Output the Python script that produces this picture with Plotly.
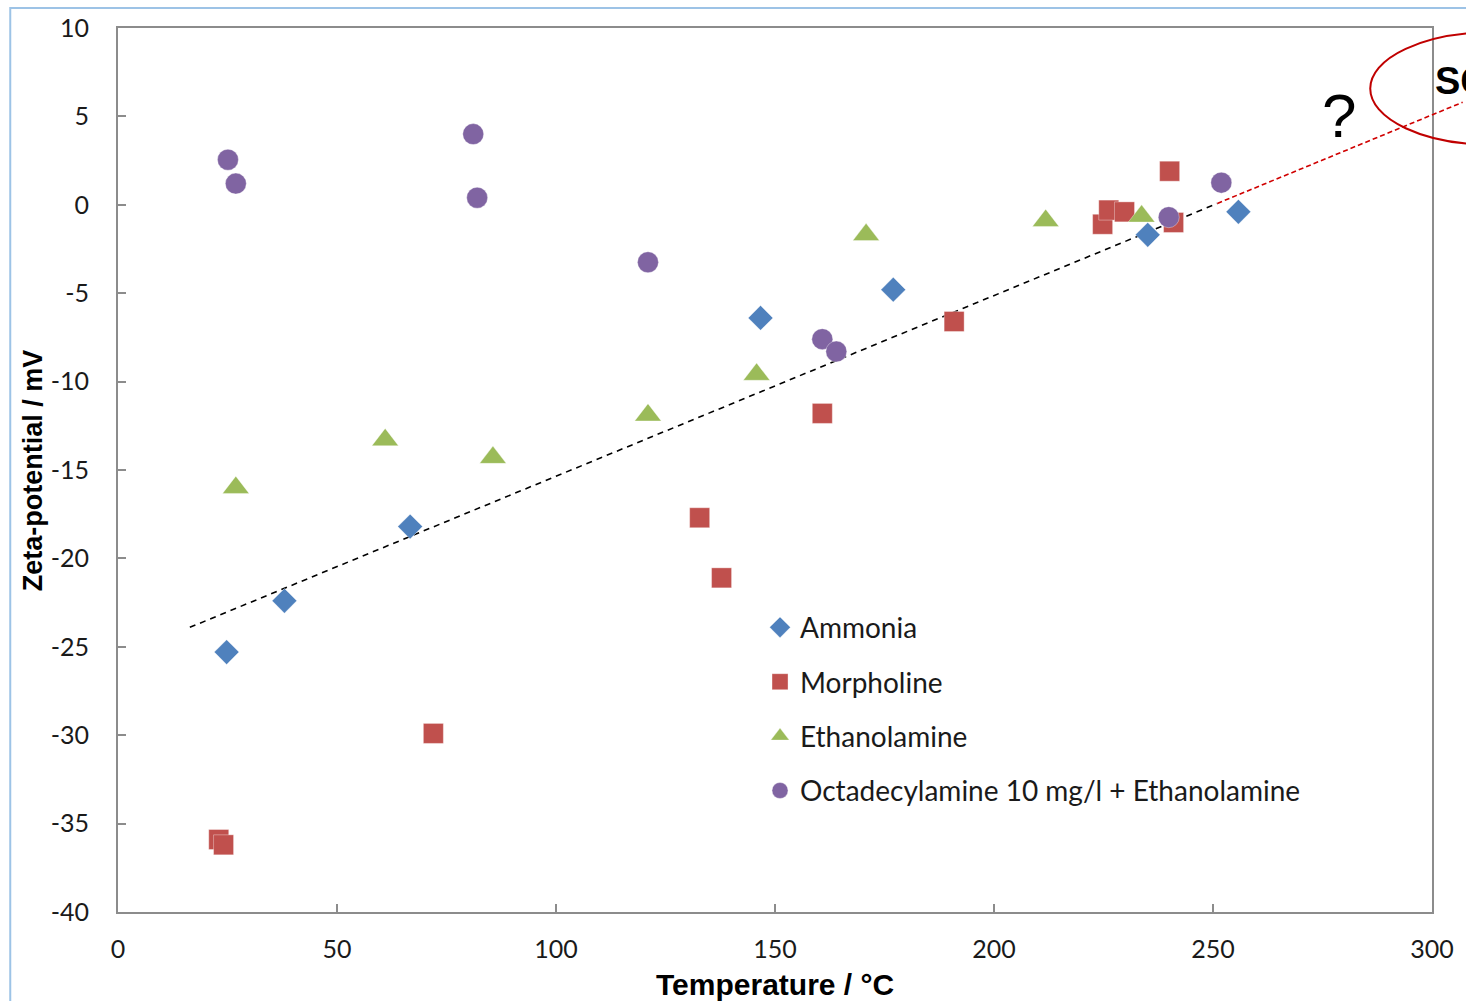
import plotly.graph_objects as go

# ---------------- data ----------------
ammonia_x = [24.8, 38.0, 66.7, 146.7, 177.0, 235.1, 255.8]
ammonia_y = [-25.3, -22.4, -18.2, -6.4, -4.8, -1.7, -0.4]

morpholine_x = [23.0, 24.1, 72.0, 132.8, 137.8, 160.8, 190.9, 224.8, 226.2, 229.8, 240.1, 241.0]
morpholine_y = [-35.9, -36.2, -29.9, -17.7, -21.1, -11.8, -6.6, -1.1, -0.3, -0.4, 1.9, -1.0]

ethanolamine_x = [26.9, 61.0, 85.6, 121.0, 145.8, 170.8, 211.8, 233.7]
ethanolamine_y = [-16.0, -13.3, -14.3, -11.9, -9.6, -1.7, -0.9, -0.65]

oda_x = [25.1, 26.9, 81.1, 82.0, 121.0, 160.8, 164.0, 239.9, 251.9]
oda_y = [2.55, 1.2, 4.0, 0.4, -3.25, -7.6, -8.3, -0.7, 1.25]

trend_x = [16.4, 251.0]
trend_y = [-23.9, 0.08]
extrap_x = [251.0, 307.0]
extrap_y = [0.08, 5.8]

x_tickvals = [0, 50, 100, 150, 200, 250, 300]
x_ticktext = ["0", "50", "100", "150", "200", "250", "300"]
y_tickvals = [10, 5, 0, -5, -10, -15, -20, -25, -30, -35, -40]
y_ticktext = ["10", "5", "0", "-5", "-10", "-15", "-20", "-25", "-30", "-35", "-40"]

X_RANGE = [0, 300]
Y_RANGE = [-40, 10]

BLUE = "#4F81BD"
RED = "#C0504D"
GREEN = "#9BBB59"
PURPLE = "#8064A2"
AXIS = "#8C8C8C"
TICKFONT = "Lato"


def to_paper_x(v):
    return (v - X_RANGE[0]) / (X_RANGE[1] - X_RANGE[0])


def to_paper_y(v):
    return (v - Y_RANGE[0]) / (Y_RANGE[1] - Y_RANGE[0])


fig = go.Figure()

# trend line (black dashed)
fig.add_trace(go.Scatter(x=trend_x, y=trend_y, mode="lines",
                         line=dict(color="black", width=1.6, dash="6px,5px"),
                         showlegend=False, hoverinfo="skip"))

series = [
    ("Ammonia", ammonia_x, ammonia_y, "diamond", BLUE, 19),
    ("Morpholine", morpholine_x, morpholine_y, "square", RED, 20),
    ("Ethanolamine", ethanolamine_x, ethanolamine_y, "triangle-up", GREEN, 23),
    ("Octadecylamine 10 mg/l + Ethanolamine", oda_x, oda_y, "circle", PURPLE, 21),
]
for i, (name, xs, ys, sym, col, sz) in enumerate(series):
    fig.add_trace(go.Scatter(
        x=xs, y=ys, mode="markers", name=name, legendgroup=f"g{i}",
        marker=dict(symbol=sym, color=col, size=sz,
                    line=dict(color="rgba(255,255,255,0.35)", width=1)),
    ))

# red dashed extrapolation (extends past the plot edge, so drawn in paper coords)
fig.add_shape(type="line", xref="paper", yref="paper",
              x0=to_paper_x(extrap_x[0]), y0=to_paper_y(extrap_y[0]),
              x1=to_paper_x(extrap_x[1]), y1=to_paper_y(extrap_y[1]),
              line=dict(color="#D00000", width=1.6, dash="5px,3px"), layer="above")

# red ellipse (partially outside the figure)
fig.add_shape(type="circle", xref="paper", yref="paper",
              x0=0.953, x1=1.137, y0=0.868, y1=0.995,
              line=dict(color="#C00000", width=2))

# outer slide frame
fig.add_shape(type="rect", xref="paper", yref="paper",
              x0=-0.082, x1=1.2, y0=-0.3, y1=1.0225,
              line=dict(color="#9DC3E6", width=2))

fig.add_annotation(text="?", xref="paper", yref="paper", x=0.929, y=0.901,
                   xanchor="center", yanchor="middle",
                   showarrow=False, font=dict(family="Liberation Sans", size=62, color="black"))
fig.add_annotation(text="<b>SCW</b>", xref="paper", yref="paper", x=1.0005, y=0.94,
                   xanchor="left", yanchor="middle", showarrow=False,
                   font=dict(family="Liberation Sans", size=38, color="black"))

# axis titles
fig.add_annotation(text="<b>Temperature / °C</b>", xref="paper", yref="paper",
                   x=0.5, y=-0.082, xanchor="center", yanchor="middle", showarrow=False,
                   font=dict(family="Liberation Sans", size=30, color="black"))
fig.add_annotation(text="<b>Zeta-potential / mV</b>", xref="paper", yref="paper",
                   x=-0.0645, y=0.5, xanchor="center", yanchor="middle", textangle=-90,
                   showarrow=False,
                   font=dict(family="Liberation Sans", size=27, color="black"))

fig.update_layout(
    width=1466, height=1001,
    margin=dict(l=118, r=31, t=25, b=89),
    paper_bgcolor="white", plot_bgcolor="white",
    showlegend=True,
    legend=dict(x=0.4886, y=0.35, xanchor="left", yanchor="top",
                bgcolor="rgba(0,0,0,0)", tracegroupgap=15,
                font=dict(family=TICKFONT, size=28, color="#1a1a1a"),
                itemsizing="trace"),
    xaxis=dict(range=X_RANGE, tickvals=x_tickvals, ticktext=x_ticktext,
               showgrid=False, zeroline=False, showline=True, mirror=True,
               linecolor=AXIS, linewidth=2, ticks="inside", ticklen=8,
               tickcolor=AXIS, tickwidth=1.5, ticklabelstandoff=14,
               tickfont=dict(family=TICKFONT, size=25, color="#1a1a1a")),
    yaxis=dict(range=Y_RANGE, tickvals=y_tickvals, ticktext=y_ticktext,
               showgrid=False, zeroline=False, showline=True, mirror=True,
               linecolor=AXIS, linewidth=2, ticks="inside", ticklen=8,
               tickcolor=AXIS, tickwidth=1.5, ticklabelstandoff=22,
               tickfont=dict(family=TICKFONT, size=25, color="#1a1a1a")),
)

fig.write_html("out.html", config={"displayModeBar": False},
               post_script="document.body.style.margin='0';document.body.style.overflow='hidden';")
